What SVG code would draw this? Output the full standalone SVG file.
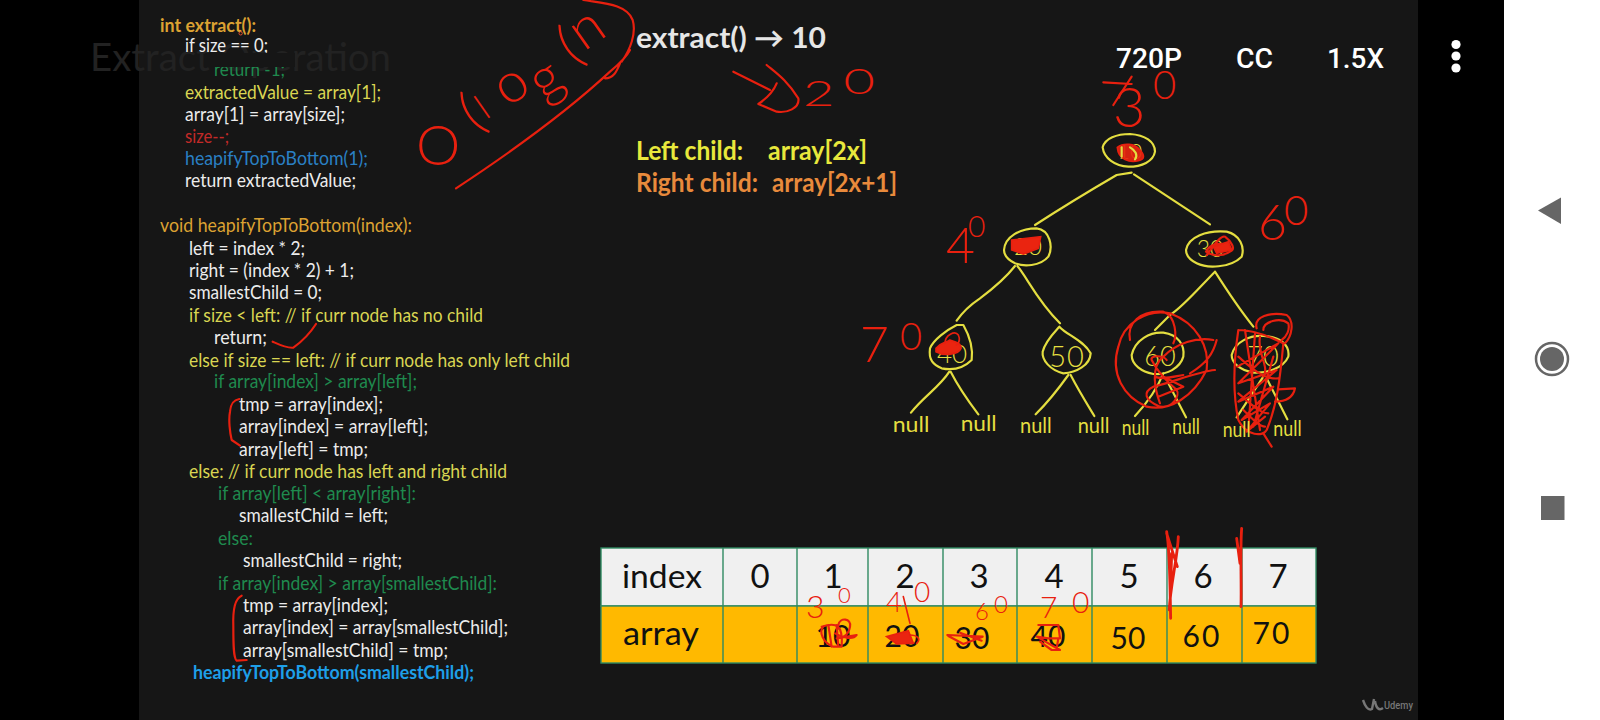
<svg xmlns="http://www.w3.org/2000/svg" width="1600" height="720" viewBox="0 0 1600 720">
<style>
.c{font-family:Lato,"Open Sans",sans-serif;font-size:19px}
.b{font-weight:700}
.w{fill:#ececec}.y{fill:#d9d552}.g{fill:#1f8a4e}.o{fill:#dca232}.r{fill:#c22a28}.bl{fill:#2a80c4}
.h{font-family:Lato,"Open Sans",sans-serif;font-weight:700;font-size:26px}
.ui{font-family:Roboto,"Liberation Sans",sans-serif;font-weight:500;font-size:28px;fill:#fff}
.t{font-family:Lato,"Open Sans",sans-serif;font-size:33px;fill:#111;text-anchor:middle}
.v{font-family:Lato,"Open Sans",sans-serif;font-weight:400;font-size:30px;fill:#111;text-anchor:middle}
.ink{fill:none;stroke:#e8200f;stroke-width:6.5;stroke-linecap:round;stroke-linejoin:round}
.thin{stroke-width:5}
.fat{stroke-width:8.5}
.blob{fill:#ea2410;stroke:#e8200f;stroke-width:5}
.yl{fill:none;stroke:#e4de40;stroke-width:6.5;stroke-linecap:round;stroke-linejoin:round}
.nv{font-family:Lato,"Open Sans",sans-serif;font-weight:300;fill:#e4de40;text-anchor:middle}
.nl{font-family:Lato,"Open Sans",sans-serif;font-weight:400;font-size:21px;fill:#e4de40}
.rt{font-family:Lato,"Open Sans",sans-serif;font-weight:300;fill:#e8200f}
.cell{stroke:#2f8a62;stroke-width:1.4}
</style>
<rect width="1600" height="720" fill="#000"/>
<rect x="139" width="1279" height="720" fill="#161616"/>
<rect x="1504" width="96" height="720" fill="#fff"/>
<text x="90" y="71" font-family="Lato,sans-serif" font-size="38" fill="#222" textLength="301" lengthAdjust="spacingAndGlyphs">Extract Operation</text>

<g id="code">
<text class="c b o" x="160" y="32" textLength="96" lengthAdjust="spacingAndGlyphs">int extract():</text>
<text class="c w" x="185" y="52" textLength="83" lengthAdjust="spacingAndGlyphs">if size == 0;</text>
<text class="c g" x="214" y="76" textLength="71" lengthAdjust="spacingAndGlyphs">return -1;</text>
<rect x="205" y="53" width="90" height="14" fill="#161616"/>
<text class="c y" x="185" y="99" textLength="196" lengthAdjust="spacingAndGlyphs">extractedValue = array[1];</text>
<text class="c w" x="185" y="121" textLength="160" lengthAdjust="spacingAndGlyphs">array[1] = array[size];</text>
<text class="c r" x="185" y="143" textLength="44" lengthAdjust="spacingAndGlyphs">size--;</text>
<text class="c bl" x="185" y="165" textLength="183" lengthAdjust="spacingAndGlyphs">heapifyTopToBottom(1);</text>
<text class="c w" x="185" y="187" textLength="171" lengthAdjust="spacingAndGlyphs">return extractedValue;</text>
<text class="c o" x="160" y="232" textLength="252" lengthAdjust="spacingAndGlyphs">void heapifyTopToBottom(index):</text>
<text class="c w" x="189" y="255" textLength="116" lengthAdjust="spacingAndGlyphs">left = index * 2;</text>
<text class="c w" x="189" y="277" textLength="165" lengthAdjust="spacingAndGlyphs">right = (index * 2) + 1;</text>
<text class="c w" x="189" y="299" textLength="133" lengthAdjust="spacingAndGlyphs">smallestChild = 0;</text>
<text class="c y" x="189" y="322" textLength="294" lengthAdjust="spacingAndGlyphs">if size &lt; left: // if curr node has no child</text>
<text class="c w" x="214" y="344" textLength="53" lengthAdjust="spacingAndGlyphs">return;</text>
<text class="c y" x="189" y="367" textLength="381" lengthAdjust="spacingAndGlyphs">else if size == left: // if curr node has only left child</text>
<text class="c g" x="214" y="388" textLength="203" lengthAdjust="spacingAndGlyphs">if array[index] &gt; array[left];</text>
<text class="c w" x="239" y="411" textLength="144" lengthAdjust="spacingAndGlyphs">tmp = array[index];</text>
<text class="c w" x="239" y="433" textLength="189" lengthAdjust="spacingAndGlyphs">array[index] = array[left];</text>
<text class="c w" x="239" y="456" textLength="129" lengthAdjust="spacingAndGlyphs">array[left] = tmp;</text>
<text class="c y" x="189" y="478" textLength="318" lengthAdjust="spacingAndGlyphs">else: // if curr node has left and right child</text>
<text class="c g" x="218" y="500" textLength="198" lengthAdjust="spacingAndGlyphs">if array[left] &lt; array[right]:</text>
<text class="c w" x="239" y="522" textLength="149" lengthAdjust="spacingAndGlyphs">smallestChild = left;</text>
<text class="c g" x="218" y="545" textLength="35" lengthAdjust="spacingAndGlyphs">else:</text>
<text class="c w" x="243" y="567" textLength="159" lengthAdjust="spacingAndGlyphs">smallestChild = right;</text>
<text class="c g" x="218" y="590" textLength="279" lengthAdjust="spacingAndGlyphs">if array[index] &gt; array[smallestChild]:</text>
<text class="c w" x="243" y="612" textLength="145" lengthAdjust="spacingAndGlyphs">tmp = array[index];</text>
<text class="c w" x="243" y="634" textLength="265" lengthAdjust="spacingAndGlyphs">array[index] = array[smallestChild];</text>
<text class="c w" x="243" y="657" textLength="205" lengthAdjust="spacingAndGlyphs">array[smallestChild] = tmp;</text>
<text class="c b" fill="#1e9fe8" x="193" y="679" textLength="281" lengthAdjust="spacingAndGlyphs">heapifyTopToBottom(smallestChild);</text>
</g>

<g id="notes">
<text class="h" fill="#e6e6e6" x="636" y="48" style="font-size:28px" textLength="190" lengthAdjust="spacingAndGlyphs">extract() → 10</text>
<text class="h" fill="#e8e83c" x="636" y="160" textLength="107" lengthAdjust="spacingAndGlyphs">Left child:</text>
<text class="h" fill="#e8e83c" x="768" y="160" textLength="99" lengthAdjust="spacingAndGlyphs">array[2x]</text>
<text class="h" fill="#e88a3c" x="636" y="192" textLength="122" lengthAdjust="spacingAndGlyphs">Right child:</text>
<text class="h" fill="#e88a3c" x="772" y="192" textLength="125" lengthAdjust="spacingAndGlyphs">array[2x+1]</text>
</g>

<g id="player-controls">
<text class="ui" x="1116" y="67.5" textLength="66" lengthAdjust="spacingAndGlyphs">720P</text>
<text class="ui" x="1236" y="67.5" textLength="37" lengthAdjust="spacingAndGlyphs">CC</text>
<text class="ui" x="1327" y="67.5" textLength="57" lengthAdjust="spacingAndGlyphs">1.5X</text>
<circle cx="1456" cy="44.5" r="4.6" fill="#fff"/><circle cx="1456" cy="56" r="4.6" fill="#fff"/><circle cx="1456" cy="68" r="4.6" fill="#fff"/>
<path d="M1363 700C1365 706 1368 711 1372 709L1374 699M1375 701C1376 708 1379 711 1383 708" fill="none" stroke="#777" stroke-width="2.4"/>
<text x="1384" y="709" font-family="Roboto,sans-serif" font-size="10" font-weight="500" fill="#777" textLength="29" lengthAdjust="spacingAndGlyphs">Udemy</text>
</g>

<g id="android-nav">
<path d="M1538 210.500L1561 197.500V224Z" fill="#666"/>
<circle cx="1552" cy="359" r="16" fill="none" stroke="#666" stroke-width="2.500"/>
<circle cx="1552" cy="359" r="12" fill="#666"/>
<rect x="1541" y="496" width="23.500" height="24" fill="#666"/>
</g>

<g id="connectors">
<g transform="translate(830 60) scale(.33333)">
<path class="yl" d="M615 495C700 440 800 380 860 345L905 338M912 343L1140 493"/>
</g>
<g transform="translate(830 280) scale(.33333)">
<path class="yl" d="M555-42C530-10 490 25 450 55C420 75 395 100 380 122M562-42C590-10 620 60 690 130M1155-25C1110 20 1060 80 1020 105L975 150M1155-25C1190 30 1230 90 1270 140"/>
<path class="yl" d="M358 275C330 320 280 350 243 398M362 275C385 320 420 370 445 403M715 285C690 320 650 370 617 403M722 285C745 330 770 370 793 408M1000 280C980 330 950 370 915 408M1015 310L1068 412M1300 290L1220 412M1310 295L1372 418"/>
</g>
</g>

<g id="node-root">
<g transform="translate(830 60) scale(.33333)"><path class="yl" d="M818 262C825 235 860 222 900 222C945 225 975 245 975 275C970 305 935 320 895 320C855 318 822 295 818 262Z"/></g>
<text class="nv" x="1130" y="159" font-size="21">10</text>
<g transform="translate(830 60) scale(.33333)"><path class="blob" d="M862 262C880 248 915 250 928 268C945 285 945 298 925 302C900 308 865 300 862 262Z" fill-opacity=".9"/><path class="yl thin" d="M875 262V290M900 262C915 270 925 285 915 298"/></g>
</g>
<g id="node-left">
<g transform="translate(830 60) scale(.33333)"><path class="yl" d="M522 570C525 530 570 505 620 505C660 510 670 560 655 590C630 620 580 620 555 610C535 600 522 585 522 570Z"/></g>
<text class="nv" x="1028" y="255" font-size="24">20</text>
<g transform="translate(830 60) scale(.33333)"><path class="blob" d="M545 540L632 530L625 565L580 582L545 570Z"/></g>
</g>
<g id="node-right">
<g transform="translate(830 60) scale(.33333)"><path class="yl" d="M1068 570C1075 530 1130 510 1190 515C1230 525 1245 560 1235 590C1200 625 1130 625 1100 610C1080 600 1068 585 1068 570Z"/></g>
<text class="nv" x="1210" y="257" font-size="23">30</text>
<g transform="translate(830 60) scale(.33333)"><path class="ink" d="M1130 585C1150 560 1170 525 1185 530C1205 545 1215 565 1205 572C1180 590 1150 590 1128 575C1140 550 1180 545 1195 560"/><path class="blob" d="M1150 560L1195 545L1205 570L1160 580Z"/></g>
</g>
<g id="node-40">
<g transform="translate(830 280) scale(.33333)"><path class="yl" d="M380 135L400 135C420 170 430 200 425 240C400 265 370 272 335 265C310 255 295 240 300 205C310 180 350 150 380 135Z"/></g>
<text class="nv" x="952" y="363" font-size="26">40</text>
<g transform="translate(830 280) scale(.33333)"><path class="blob" d="M318 205C335 185 345 190 360 180C375 185 395 190 393 205C385 225 340 228 318 215Z"/><path class="ink thin" d="M345 190C345 165 375 150 385 165C392 180 385 190 380 195"/></g>
</g>
<g id="node-50">
<g transform="translate(830 280) scale(.33333)"><path class="yl" d="M688 140C710 165 760 180 782 220C780 255 740 278 700 280C660 270 635 240 638 215C645 185 670 160 688 140Z"/></g>
<text class="nv" x="1067" y="367" font-size="29" letter-spacing="1">50</text>
</g>
<g id="node-60">
<g transform="translate(830 280) scale(.33333)"><path class="yl" d="M905 225C915 180 960 155 1000 158C1045 165 1065 195 1060 230C1050 265 1010 285 970 282C935 275 905 255 905 225Z"/></g>
<text class="nv" x="1160" y="366" font-size="27">60</text>
<g transform="translate(830 280) scale(.33333)"><path class="ink" d="M1020 100C950 85 880 130 865 200C840 280 880 350 950 380C1020 395 1090 350 1130 270C1140 200 1100 130 1020 100ZM900 180C890 130 930 90 1000 95C1040 110 1040 170 1030 190M1150 180C1100 170 1040 190 1000 230C960 260 975 330 990 370M1155 270C1100 275 1020 310 970 320C940 335 940 360 990 380C1030 385 1050 345 1040 330C1020 310 990 290 965 240C960 225 1000 225 1010 240M1160 180C1150 220 1130 250 1080 280M1000 290L1060 320L985 350M975 290C1000 300 1030 290 1060 285"/></g>
</g>
<g id="node-70">
<g transform="translate(830 280) scale(.33333)"><path class="yl" d="M1205 225C1215 185 1260 165 1300 168C1350 170 1380 195 1375 230C1360 265 1310 280 1270 278C1230 270 1205 250 1205 225Z"/></g>
<text class="nv" x="1263" y="366" font-size="27">70</text>
<g transform="translate(830 280) scale(.33333)"><path class="ink" d="M1280 145C1270 110 1320 95 1370 105C1395 125 1385 170 1365 190M1300 150C1300 125 1350 110 1375 130C1380 150 1370 170 1355 180M1225 150C1210 250 1210 350 1225 420C1250 470 1300 470 1310 450C1340 380 1350 300 1360 190C1320 170 1270 150 1225 150M1222 260L1345 190L1225 310L1340 270L1225 365L1330 320L1235 420L1320 370L1250 455L1305 410M1245 150L1290 450M1275 160L1255 450M1300 460L1325 500M1345 328L1395 325C1390 350 1370 365 1335 365M1290 170C1280 220 1320 260 1300 290M1225 230C1260 260 1300 300 1345 295M1225 340C1260 370 1290 400 1315 400M1240 390C1270 420 1290 440 1305 440M1330 230L1270 440"/></g>
</g>
<g id="null-leaves">
<text class="nl" x="892.700" y="431.700" textLength="36.700" lengthAdjust="spacingAndGlyphs">null</text>
<text class="nl" x="960.700" y="430.700" textLength="36" lengthAdjust="spacingAndGlyphs">null</text>
<text class="nl" x="1020" y="433.300" textLength="31.700" lengthAdjust="spacingAndGlyphs">null</text>
<text class="nl" x="1077.700" y="432.700" textLength="31.700" lengthAdjust="spacingAndGlyphs">null</text>
<text class="nl" x="1121.700" y="435" textLength="27.700" lengthAdjust="spacingAndGlyphs">null</text>
<text class="nl" x="1172.300" y="434" textLength="27.700" lengthAdjust="spacingAndGlyphs">null</text>
<text class="nl" x="1222.700" y="436.700" textLength="28" lengthAdjust="spacingAndGlyphs">null</text>
<text class="nl" x="1273.300" y="435.700" textLength="28.300" lengthAdjust="spacingAndGlyphs">null</text>
</g>

<g id="table">
<rect class="cell" x="601" y="548" width="715" height="58" fill="#f0f0f0"/>
<rect class="cell" x="601" y="606" width="715" height="57" fill="#ffb900"/>
<path class="cell" d="M723 548V663M797 548V663M868 548V663M943 548V663M1017 548V663M1092 548V663M1167 548V663M1242 548V663"/>
<text class="t" x="662" y="588" textLength="80" lengthAdjust="spacingAndGlyphs">index</text>
<text class="t" x="760" y="588">0</text><text class="t" x="833" y="588">1</text><text class="t" x="905" y="588">2</text><text class="t" x="979" y="588">3</text><text class="t" x="1054" y="588">4</text><text class="t" x="1129" y="588">5</text><text class="t" x="1203" y="588">6</text><text class="t" x="1278" y="588">7</text>
<text class="t" x="661" y="645" textLength="76" lengthAdjust="spacingAndGlyphs">array</text>
<text class="v" x="833" y="647">10</text><text class="v" x="902" y="647">20</text><text class="v" x="972" y="649">30</text><text class="v" x="1048" y="647">40</text><text class="v" x="1128" y="649">50</text><text class="v" x="1202" y="647" letter-spacing="2">60</text><text class="v" x="1272" y="644" letter-spacing="2">70</text>
</g>

<g id="annotations">
<text class="rt" font-size="56" x="416 476 486 508 544 574 584" y="165 133 120 108 102 66 52" rotate="0 -35 -35 -35 -35 -35 -35"><tspan>O(</tspan><tspan font-size="36">l</tspan><tspan>og(n</tspan></text>
<text class="rt" font-size="36" transform="translate(803 106) scale(1.5 1)" x="0 27" y="0 -12">20</text>
<text class="rt" font-size="56" x="1113 1153" y="127 99"><tspan>3</tspan><tspan font-size="40">0</tspan></text>
<text class="rt" font-size="50" x="946 968" y="263 237"><tspan>4</tspan><tspan font-size="30">0</tspan></text>
<text class="rt" font-size="50" x="1258 1284" y="240 225"><tspan>6</tspan><tspan font-size="42">0</tspan></text>
<text class="rt" font-size="50" x="860 900" y="362 350"><tspan>7</tspan><tspan font-size="38">0</tspan></text>
<text class="rt" font-size="32" x="806 838" y="618 603"><tspan>3</tspan><tspan font-size="22">0</tspan></text>
<text class="rt" font-size="28" x="886 914" y="612 602">40</text>
<text class="rt" font-size="24" x="975 994" y="620 613">60</text>
<text class="rt" font-size="30" x="1040 1072" y="618 613">70</text>

<g transform="translate(130 0) scale(.33333)">
<path class="ink" d="M1360 0C1420 10 1490 12 1508 60C1520 100 1500 150 1475 185M978 565C1130 465 1300 345 1440 215C1470 190 1490 170 1500 150M1425 235C1450 235 1460 215 1470 190"/>
<circle cx="332" cy="100" r="5" fill="none" stroke="#e05030" stroke-width="3"/>
</g>
<g transform="translate(610 0) scale(.33333)">
<path class="ink" d="M370 215L480 270M470 195C500 220 530 240 565 295C570 325 530 340 500 335L445 312C470 295 490 275 500 250"/>
</g>
<g transform="translate(830 60) scale(.33333)">
<path class="ink" d="M820 67L905 72M905 50L850 135"/>
</g>
<g transform="translate(130 230) scale(.33333)">
<path class="ink" d="M428 335C450 345 470 355 490 353C515 335 540 310 558 282M328 507C310 510 302 520 300 545C295 570 300 610 305 630L330 647"/>
</g>
<g transform="translate(130 450) scale(.33333)">
<path class="ink" d="M335 437C315 445 308 480 310 530C310 580 310 625 320 632L350 630"/>
</g>
<g transform="translate(580 510) scale(.33333)">
<path class="ink" d="M725 350C770 335 790 345 785 410L760 410C730 400 715 365 730 350M775 345C780 320 815 325 810 350C805 375 795 380 770 385L830 375C820 390 790 385 765 370M745 345L755 410M770 345L775 410"/>
<path class="blob" d="M920 380L985 362L1000 400L950 402Z"/><path class="ink thin" d="M970 260L990 340M990 375C1010 375 1025 385 1010 400"/>
</g>
<g transform="translate(940 510) scale(.33333)">
<path class="ink" d="M22 375L128 380L70 402L25 378M60 368L125 392"/>
<path class="ink" d="M295 345H355L360 385L325 385L290 380L360 420L335 420L300 395M355 385L350 415"/>
<path class="ink fat" d="M680 65C690 120 690 240 692 325M715 80C712 150 690 230 688 300M680 70L712 170M695 130L690 290M905 55C900 120 905 220 903 290M890 85L900 160"/>
</g>
</g>
</svg>
